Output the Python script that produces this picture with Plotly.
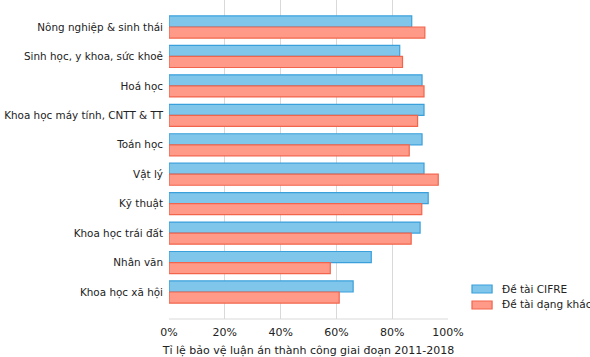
import plotly.graph_objects as go

categories = ["Nông nghiệp & sinh thái", "Sinh học, y khoa, sức khoẻ", "Hoá học",
              "Khoa học máy tính, CNTT & TT", "Toán học", "Vật lý", "Kỹ thuật",
              "Khoa học trái đất", "Nhân văn", "Khoa học xã hội"]
cifre = [0.870, 0.827, 0.907, 0.914, 0.907, 0.914, 0.929, 0.900, 0.725, 0.660]
other = [0.917, 0.837, 0.914, 0.891, 0.861, 0.965, 0.906, 0.868, 0.578, 0.610]
series_names = ["Đề tài CIFRE", "Đề tài dạng khác"]
x_ticks = [0, 0.2, 0.4, 0.6, 0.8, 1.0]
x_ticklabels = ["0%", "20%", "40%", "60%", "80%", "100%"]
x_title = "Tỉ lệ bảo vệ luận án thành công giai đoạn 2011-2018"

fills = ["#80c6ea", "#ff9a88"]
borders = ["#3aa0db", "#f2644b"]

fig = go.Figure()
for name, vals, fc, bc in zip(series_names, [cifre, other], fills, borders):
    fig.add_trace(go.Bar(y=categories, x=vals, orientation="h", name=name,
                         marker=dict(color=fc, line=dict(color=bc, width=1.2))))

fig.update_layout(
    width=590, height=357,
    margin=dict(l=169, r=142, t=0, b=38, autoexpand=False),
    barmode="group", bargap=0.25, bargroupgap=0,
    plot_bgcolor="white", paper_bgcolor="white",
    font=dict(family="DejaVu Sans, Verdana, sans-serif", size=11, color="#222"),
    showlegend=False,
    xaxis=dict(range=[0, 1.0], tickvals=x_ticks, ticktext=x_ticklabels,
               showgrid=True, gridcolor="#d9d9d9", gridwidth=1, zeroline=False,
               showline=False, ticks="", ticklabelstandoff=5,
               title=dict(text=x_title, standoff=10, font=dict(size=11, color="#222")),
               automargin=False, fixedrange=True),
    yaxis=dict(autorange=False, range=[9.917, -0.917], type="category",
               showgrid=False, ticks="", showline=False, ticklabelstandoff=5,
               tickfont=dict(size=10.4),
               automargin=False, fixedrange=True),
)
fig.add_shape(type="line", xref="paper", yref="paper", x0=0, x1=1, y0=0, y1=0,
              line=dict(color="#d9d9d9", width=1))

# custom legend (rectangle swatches like the reference)
leg_rows = [(0.0815, 0.1066, 0.095), (0.0313, 0.0564, 0.0439)]
for (y0, y1, yt), name, fc, bc in zip(leg_rows, series_names, fills, borders):
    fig.add_shape(type="rect", xref="paper", yref="paper", x0=1.086, x1=1.158,
                  y0=y0, y1=y1, fillcolor=fc, line=dict(color=bc, width=1.2))
    fig.add_annotation(xref="paper", yref="paper", x=1.186, y=yt, text=name,
                       showarrow=False, xanchor="left", yanchor="middle",
                       font=dict(size=10.5, color="#222"))

fig.write_html("out.html", config={"displayModeBar": False},
               post_script="document.body.style.margin='0';")
